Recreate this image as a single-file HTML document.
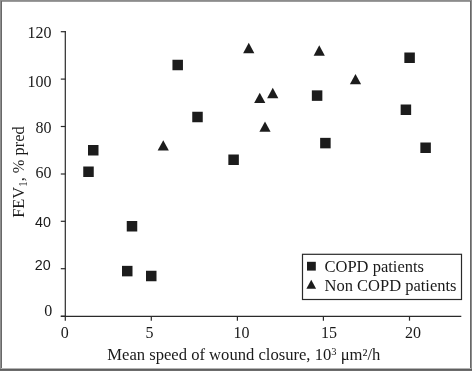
<!DOCTYPE html>
<html><head><meta charset="utf-8"><style>
html,body{margin:0;padding:0;background:#fff;}
body{width:472px;height:371px;overflow:hidden;position:relative;}
svg{position:absolute;left:0;top:0;display:block;will-change:transform;opacity:0.999;}
text{font-family:"Liberation Serif",serif;font-size:16px;fill:#1a1a1a;}
</style></head><body>
<svg width="472" height="371" viewBox="0 0 472 371">
<rect x="0" y="0" width="472" height="371" fill="#fff"/>
<!-- outer frame -->
<g shape-rendering="crispEdges">
<rect x="0" y="0" width="472" height="1" fill="#8c8c8c"/>
<rect x="0" y="1" width="472" height="1" fill="#9c9c9c"/>
<rect x="0" y="0" width="1" height="371" fill="#8e8e8e"/>
<rect x="1" y="1" width="1" height="370" fill="#686868"/>
<rect x="470" y="1" width="1" height="370" fill="#686868"/>
<rect x="471" y="0" width="1" height="371" fill="#8e8e8e"/>
<rect x="1" y="368" width="470" height="1" fill="#b4b4b4"/>
<rect x="0" y="369" width="472" height="1" fill="#606060"/>
<rect x="0" y="370" width="472" height="1" fill="#6c6c6c"/>
</g>
<g stroke="#2a2a2a" stroke-width="1.2" fill="none">
<line x1="65.3" y1="31.1" x2="65.3" y2="316.8"/>
<line x1="60.8" y1="316.35" x2="461.3" y2="316.35" stroke-width="1.1"/>
<line x1="60.8" y1="31.7" x2="65.5" y2="31.7"/>
<line x1="60.8" y1="79.1" x2="65.5" y2="79.1"/>
<line x1="60.8" y1="126.5" x2="65.5" y2="126.5"/>
<line x1="60.8" y1="174.0" x2="65.5" y2="174.0"/>
<line x1="60.8" y1="221.3" x2="65.5" y2="221.3"/>
<line x1="60.8" y1="268.7" x2="65.5" y2="268.7"/>
<line x1="60.8" y1="316.2" x2="65.5" y2="316.2"/>
<line x1="65.3" y1="316.2" x2="65.3" y2="320.7"/>
<line x1="151.3" y1="316.2" x2="151.3" y2="320.7"/>
<line x1="237.4" y1="316.2" x2="237.4" y2="320.7"/>
<line x1="323.4" y1="316.2" x2="323.4" y2="320.7"/>
<line x1="409.5" y1="316.2" x2="409.5" y2="320.7"/>
</g>
<g fill="#1c1c1c">
<rect x="172.45" y="59.75" width="10.5" height="10.5"/>
<rect x="192.25" y="111.75" width="10.5" height="10.5"/>
<rect x="311.85" y="90.35" width="10.5" height="10.5"/>
<rect x="320.15" y="137.85" width="10.5" height="10.5"/>
<rect x="228.35" y="154.50" width="10.5" height="10.5"/>
<rect x="404.35" y="52.50" width="10.5" height="10.5"/>
<rect x="400.65" y="104.50" width="10.5" height="10.5"/>
<rect x="420.35" y="142.50" width="10.5" height="10.5"/>
<rect x="88.00" y="145.00" width="10.5" height="10.5"/>
<rect x="83.25" y="166.50" width="10.5" height="10.5"/>
<rect x="126.75" y="221.00" width="10.5" height="10.5"/>
<rect x="122.00" y="265.85" width="10.5" height="10.5"/>
<rect x="146.00" y="270.75" width="10.5" height="10.5"/>
<polygon points="248.75,42.70 243.15,53.25 254.35,53.25"/>
<polygon points="319.25,45.20 313.65,55.75 324.85,55.75"/>
<polygon points="259.75,92.70 254.15,103.00 265.35,103.00"/>
<polygon points="272.75,87.70 267.15,98.25 278.35,98.25"/>
<polygon points="265.00,121.45 259.40,131.75 270.60,131.75"/>
<polygon points="355.50,73.95 349.90,84.25 361.10,84.25"/>
<polygon points="163.25,140.20 157.65,150.50 168.85,150.50"/>
</g>
<text x="51.5" y="37.7" text-anchor="end">120</text>
<text x="51.5" y="86.6" text-anchor="end">100</text>
<text x="51.5" y="133.2" text-anchor="end">80</text>
<text x="51.5" y="177.8" text-anchor="end">60</text>
<text x="51" y="227" text-anchor="end" style="font-family:'Liberation Sans',sans-serif;font-size:14.3px">40</text>
<text x="50.6" y="270.1" text-anchor="end" style="font-family:'Liberation Sans',sans-serif;font-size:14.3px">20</text>
<text x="52.2" y="316.0" text-anchor="end">0</text>

<text x="64.8" y="337.7" text-anchor="middle">0</text>
<text x="149.60000000000002" y="337.7" text-anchor="middle">5</text>
<text x="241.6" y="337.7" text-anchor="middle">10</text>
<text x="329.0" y="337.7" text-anchor="middle">15</text>
<text x="413.1" y="337.7" text-anchor="middle">20</text>

<text x="243.8" y="360" text-anchor="middle" style="font-size:16.6px">Mean speed of wound closure, 10<tspan style="font-size:10.5px" dy="-5">3</tspan><tspan dy="5"> μm²/h</tspan></text>
<text transform="translate(24,217.8) rotate(-90) scale(1,1.06)" text-anchor="start" style="font-size:16.4px;word-spacing:0px">FEV<tspan style="font-size:11px" dy="3.1">1</tspan><tspan dy="-3.1">, % pred</tspan></text>
<!-- legend -->
<rect x="302.5" y="254.3" width="159" height="45.2" fill="#fff" stroke="#2a2a2a" stroke-width="1.2"/>
<rect x="307" y="261.8" width="8.8" height="8.8" fill="#1c1c1c"/>
<polygon points="311.25,279.8 306.4,288.8 316.1,288.8" fill="#1c1c1c"/>
<text x="324.5" y="271.5" style="font-size:16.5px">COPD patients</text>
<text x="324.5" y="291.2" style="font-size:16.5px">Non COPD patients</text>
</svg>
</body></html>
